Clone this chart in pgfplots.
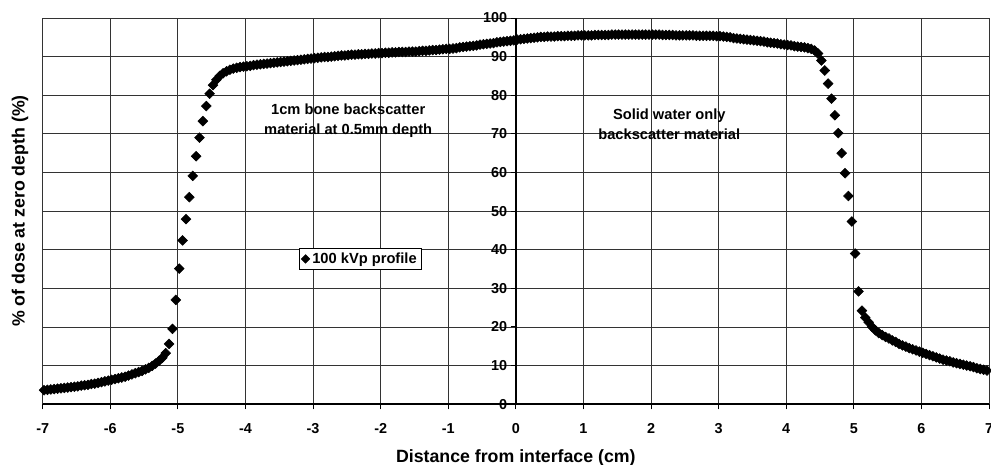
\documentclass[border=0pt]{standalone}
\usepackage{fontspec}
\setmainfont{Liberation Sans}
\usepackage{pgfplots}
\pgfplotsset{compat=1.18}

\begin{document}
\begin{tikzpicture}
\begin{axis}[
    name=ax,
    scale only axis,
    width=709.5pt, height=289.5pt,
    xmin=-7, xmax=7, ymin=0, ymax=100,
    axis x line=bottom, axis y line=middle,
    axis line style={-, black, line width=1.1pt},
    xtick={-7,-6,...,7}, ytick={0,10,...,100},
    hide obscured x ticks=false, hide obscured y ticks=false,
    grid=major, grid style={black!80, line width=0.6pt},
    tick align=outside, major tick length=4pt,
    tick style={black, line width=0.7pt},
    /pgf/number format/assume math mode=true,
    ticklabel style={font=\bfseries\fontsize{10.8}{12}\selectfont},
    xticklabel style={yshift=-7pt},
    yticklabel style={xshift=1pt},
    legend style={at={(axis cs:-2.3,37.6)}, anchor=center, draw=black, fill=white,
        font=\bfseries\fontsize{11}{12}\selectfont, inner sep=1.2pt,
        line width=0.6pt},
    legend image code/.code={\draw[#1, mark size=2.2pt] plot coordinates {(0.1cm,0cm)};},
]
\addplot[only marks, mark=square*, mark size=2.6pt, mark options={rotate=45, black}, black] coordinates {
(-6.98,3.6) (-6.93,3.7) (-6.88,3.8) (-6.83,3.9) (-6.78,4.0) (-6.73,4.1) (-6.68,4.2) (-6.63,4.3)
(-6.58,4.4) (-6.53,4.5) (-6.48,4.6) (-6.43,4.8) (-6.38,4.9) (-6.33,5.0) (-6.28,5.2) (-6.23,5.3)
(-6.18,5.5) (-6.13,5.7) (-6.08,5.9) (-6.03,6.1) (-5.98,6.3) (-5.93,6.5) (-5.88,6.7) (-5.83,6.9)
(-5.78,7.1) (-5.73,7.4) (-5.68,7.7) (-5.63,8.0) (-5.58,8.3) (-5.53,8.6) (-5.48,9.0) (-5.43,9.4)
(-5.38,9.9) (-5.33,10.5) (-5.28,11.2) (-5.23,12.0) (-5.18,13.2)
(-5.13,15.6) (-5.08,19.5) (-5.03,27.0) (-4.98,35.1) (-4.93,42.4) (-4.88,47.9) (-4.83,53.6)
(-4.78,59.1) (-4.73,64.2) (-4.68,69.0) (-4.63,73.3) (-4.58,77.2) (-4.53,80.4)
(-4.48,82.6) (-4.43,84.0) (-4.38,85.0) (-4.33,85.7) (-4.28,86.2) (-4.23,86.6) (-4.18,86.9)
(-4.13,87.1) (-4.08,87.3) (-4.03,87.4) (-3.98,87.5) (-3.93,87.6) (-3.88,87.8) (-3.83,87.9)
(-3.78,88.0) (-3.73,88.1) (-3.68,88.2) (-3.63,88.3) (-3.58,88.4) (-3.53,88.5) (-3.48,88.6)
(-3.43,88.7) (-3.38,88.8) (-3.33,88.9) (-3.28,89.0) (-3.23,89.1) (-3.18,89.2) (-3.13,89.3)
(-3.08,89.4) (-3.03,89.5) (-2.98,89.6) (-2.93,89.7) (-2.88,89.8) (-2.83,89.9) (-2.78,89.9)
(-2.73,90.0) (-2.68,90.1) (-2.63,90.2) (-2.58,90.3) (-2.53,90.3) (-2.48,90.4) (-2.43,90.5)
(-2.38,90.5) (-2.33,90.6) (-2.28,90.6) (-2.23,90.7) (-2.18,90.7) (-2.13,90.8) (-2.08,90.8)
(-2.03,90.9) (-1.98,90.9) (-1.93,91.0) (-1.88,91.0) (-1.83,91.1) (-1.78,91.1) (-1.73,91.2)
(-1.68,91.2) (-1.63,91.2) (-1.58,91.3) (-1.53,91.3) (-1.48,91.3) (-1.43,91.4) (-1.38,91.5)
(-1.33,91.5) (-1.28,91.6) (-1.23,91.7) (-1.18,91.7) (-1.13,91.8) (-1.08,91.9) (-1.03,92.0)
(-0.98,92.0) (-0.93,92.1) (-0.88,92.2) (-0.83,92.4) (-0.78,92.5) (-0.73,92.6) (-0.68,92.7)
(-0.63,92.8) (-0.58,92.9) (-0.53,93.1) (-0.48,93.2) (-0.43,93.3) (-0.38,93.4) (-0.33,93.5)
(-0.28,93.7) (-0.23,93.8) (-0.18,93.9) (-0.13,94.0) (-0.08,94.1) (-0.03,94.2)
(0.02,94.4) (0.07,94.5) (0.12,94.6) (0.17,94.7) (0.22,94.8) (0.27,94.9) (0.32,95.0)
(0.37,95.1) (0.42,95.1) (0.47,95.2) (0.52,95.2) (0.57,95.2) (0.62,95.3) (0.67,95.3)
(0.72,95.3) (0.77,95.4) (0.82,95.4) (0.87,95.4) (0.92,95.5) (0.97,95.5) (1.02,95.5)
(1.07,95.5) (1.12,95.5) (1.17,95.6) (1.22,95.6) (1.27,95.6) (1.32,95.6) (1.37,95.6)
(1.42,95.7) (1.47,95.7) (1.52,95.7) (1.57,95.7) (1.62,95.7) (1.67,95.7) (1.72,95.7)
(1.77,95.7) (1.82,95.7) (1.87,95.7) (1.92,95.7) (1.97,95.7) (2.02,95.7) (2.07,95.7)
(2.12,95.7) (2.17,95.6) (2.22,95.6) (2.27,95.6) (2.32,95.6) (2.37,95.5) (2.42,95.5)
(2.47,95.5) (2.52,95.5) (2.57,95.5) (2.62,95.5) (2.67,95.4) (2.72,95.4) (2.77,95.4)
(2.82,95.4) (2.87,95.4) (2.92,95.4) (2.97,95.3) (3.02,95.3) (3.07,95.2) (3.12,95.1)
(3.17,95.0) (3.22,94.8) (3.27,94.7) (3.32,94.6) (3.37,94.5) (3.42,94.4) (3.47,94.3)
(3.52,94.2) (3.57,94.1) (3.62,94.0) (3.67,93.9) (3.72,93.7) (3.77,93.6) (3.82,93.5)
(3.87,93.4) (3.92,93.2) (3.97,93.1) (4.02,93.0) (4.07,92.9) (4.12,92.7) (4.17,92.6)
(4.22,92.5) (4.27,92.4) (4.32,92.2) (4.37,92.0) (4.42,91.6) (4.47,90.8)
(4.52,89.0) (4.57,86.4) (4.62,83.0) (4.67,79.1) (4.72,74.8) (4.77,70.2) (4.82,65.0)
(4.87,59.8) (4.92,53.9) (4.97,47.3) (5.02,39.0) (5.07,29.2) (5.12,24.2)
(5.17,22.4) (5.22,21.2) (5.27,20.0) (5.32,19.1) (5.37,18.4) (5.42,17.9) (5.47,17.4)
(5.52,17.0) (5.57,16.5) (5.62,16.1) (5.67,15.6) (5.72,15.2) (5.77,14.9) (5.82,14.5)
(5.87,14.2) (5.92,13.9) (5.97,13.6) (6.02,13.3) (6.07,13.0) (6.12,12.7) (6.17,12.4)
(6.22,12.1) (6.27,11.8) (6.32,11.5) (6.37,11.3) (6.42,11.1) (6.47,10.8) (6.52,10.6)
(6.57,10.4) (6.62,10.2) (6.67,10.0) (6.72,9.8) (6.77,9.6) (6.82,9.3) (6.87,9.1)
(6.92,8.9) (6.97,8.7)
};
\addlegendentry{100 kVp profile}
\node[font=\bfseries\fontsize{11}{15}\selectfont, align=center] at (axis cs:-2.48,73.4)
    {1cm bone backscatter\\material at 0.5mm depth};
\node[font=\bfseries\fontsize{11}{15}\selectfont, align=center] at (axis cs:2.27,72.6)
    {Solid water only\\backscatter material};
\end{axis}
\node[anchor=base, font=\bfseries\fontsize{13.3}{15}\selectfont] at ([yshift=-43.5pt]ax.south)
    {Distance from interface (cm)};
\node[anchor=base, rotate=90, font=\bfseries\fontsize{13.3}{15}\selectfont] at ([xshift=-13.5pt]ax.west)
    {\% of dose at zero depth (\%)};
\pgfresetboundingbox
\path[use as bounding box] ([xshift=-32pt,yshift=-45pt]ax.south west) rectangle ([xshift=1.5pt,yshift=13.5pt]ax.north east);
\end{tikzpicture}
\end{document}
